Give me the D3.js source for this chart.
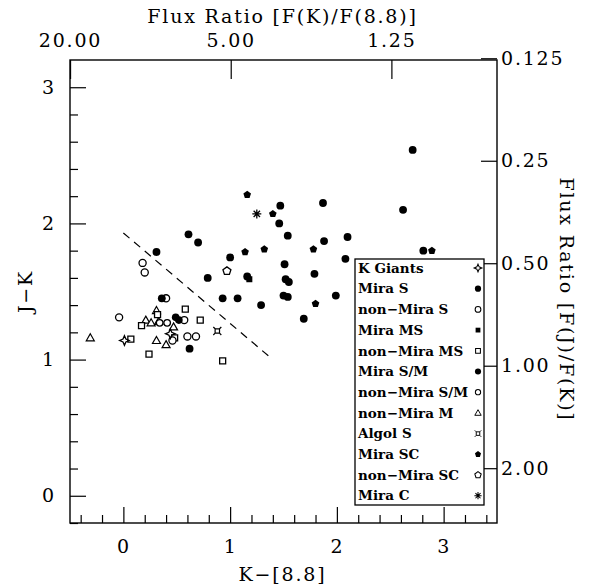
<!DOCTYPE html>
<html>
<head>
<meta charset="utf-8">
<script src="https://cdn.jsdelivr.net/npm/d3@7"></script>
<style>
body { margin: 0; background: #fff; }
text { font-family: "DejaVu Serif", serif; fill: #000; }
.ax { letter-spacing: 1.8px; }
</style>
</head>
<body>
<svg id="svg1" width="599" height="588"></svg>
<script>
// data: [K-[8.8], J-K]
var kGiants = [[0.01, 1.14], [0.44, 1.19]];
var miraS = [[2.71, 2.54], [2.62, 2.10], [1.47, 2.13], [1.46, 2.00], [1.87, 2.15],
  [0.61, 1.92], [0.70, 1.86], [0.31, 1.79], [1.54, 1.91], [1.88, 1.87], [2.10, 1.90],
  [2.81, 1.80], [1.00, 1.75], [2.08, 1.74], [0.79, 1.60], [1.16, 1.61], [1.51, 1.70],
  [1.79, 1.63], [1.52, 1.59], [1.55, 1.57], [0.93, 1.45], [1.07, 1.45], [1.29, 1.40],
  [1.50, 1.47], [1.54, 1.46], [1.99, 1.47], [1.69, 1.30], [0.36, 1.45], [0.62, 1.08]];
var nonMiraS = [[0.18, 1.71], [0.20, 1.64], [0.40, 1.45], [-0.04, 1.31], [0.57, 1.29],
  [0.46, 1.14], [0.60, 1.17], [0.68, 1.17]];
var miraMS = [[1.18, 1.59]];
var nonMiraMS = [[0.58, 1.37], [0.72, 1.29], [0.17, 1.25], [0.07, 1.15], [0.48, 1.16],
  [0.24, 1.04], [0.93, 0.99], [0.32, 1.33]];
var miraSM = [[0.49, 1.31], [0.52, 1.29]];
var nonMiraSM = [[0.34, 1.27], [0.41, 1.27]];
var nonMiraM = [[-0.31, 1.16], [0.31, 1.36], [0.21, 1.29], [0.26, 1.27], [0.33, 1.28],
  [0.47, 1.24], [0.31, 1.14], [0.40, 1.11]];
var algolS = [[0.88, 1.21]];
var miraSC = [[1.16, 2.21], [1.40, 2.07], [1.14, 1.79], [1.32, 1.81], [1.78, 1.81],
  [1.80, 1.41], [2.89, 1.80]];
var nonMiraSC = [[0.97, 1.65]];
var miraC = [[1.25, 2.07]];

var legendLabels = ["K Giants", "Mira S", "non\u2212Mira S", "Mira MS", "non\u2212Mira MS",
  "Mira S/M", "non\u2212Mira S/M", "non\u2212Mira M", "Algol S", "Mira SC", "non\u2212Mira SC", "Mira C"];

// dividing line
var divLine = [[0, 1.93], [1.40, 1.0]];

var xTicks = [0, 1, 2, 3];
var yTicks = [0, 1, 2, 3];
var topTicks = [20, 5, 1.25];
var rightTicks = [0.125, 0.25, 0.5, 1, 2];
var rightLabels = ["0.125", "0.25", "0.50", "1.00", "2.00"];

var pL = 70, pR = 497, pT = 60, pB = 523;
var svg1 = d3.select("#svg1");

var x = d3.scaleLinear().domain([-0.5, 3.5]).range([pL, pR]);
var y = d3.scaleLinear().domain([-0.2, 3.2]).range([pB, pT]);

// flux ratio scales (magnitude difference = c - 2.5 log10 ratio)
var cK = 2.753, cJ = 0.955;
var xTop = d3.scaleLog()
  .domain([Math.pow(10, (cK + 0.5) / 2.5), Math.pow(10, (cK - 3.5) / 2.5)])
  .range([pL, pR]);
var yRight = d3.scaleLog()
  .domain([Math.pow(10, (cJ + 0.2) / 2.5), Math.pow(10, (cJ - 3.2) / 2.5)])
  .range([pB, pT]);

var fs = 19;

// minor ticks
var xMinor = d3.range(-0.4, 3.45, 0.2).filter(function(v) { return Math.abs(v - Math.round(v)) > 0.01; });
var yMinor = d3.range(-0.2, 3.15, 0.2).filter(function(v) { return Math.abs(v - Math.round(v)) > 0.01; });

svg1.append("g").attr("transform", "translate(0," + pB + ")")
  .call(d3.axisBottom(x).tickValues(xMinor).tickSizeInner(-8).tickSizeOuter(0).tickFormat(""));
svg1.append("g").attr("transform", "translate(" + pL + ",0)")
  .call(d3.axisLeft(y).tickValues(yMinor).tickSizeInner(-8).tickSizeOuter(0).tickFormat(""));

var gx = svg1.append("g").attr("transform", "translate(0," + pB + ")")
  .call(d3.axisBottom(x).tickValues(xTicks).tickSizeInner(-16).tickSizeOuter(0).tickPadding(17).tickFormat(d3.format("d")));
var gy = svg1.append("g").attr("transform", "translate(" + pL + ",0)")
  .call(d3.axisLeft(y).tickValues(yTicks).tickSizeInner(-16).tickSizeOuter(0).tickPadding(14).tickFormat(d3.format("d")));
var gt = svg1.append("g").attr("transform", "translate(0," + pT + ")")
  .call(d3.axisTop(xTop).tickValues(topTicks).tickSizeInner(-19).tickSizeOuter(0).tickPadding(13).tickFormat(d3.format(".2f")));
var gr = svg1.append("g").attr("transform", "translate(" + pR + ",0)")
  .call(d3.axisRight(yRight).tickValues(rightTicks).tickSizeInner(-16).tickSizeOuter(0).tickPadding(4)
    .tickFormat(function(d, i) { return rightLabels[i]; }));

svg1.selectAll(".domain").remove();
svg1.selectAll(".tick line").attr("stroke", "#000").attr("stroke-width", 1.2);
svg1.selectAll(".tick text").attr("class", "ax").style("font-size", fs + "px").attr("fill", "#000");
gt.selectAll(".tick text").attr("dy", "0");

// frame
svg1.append("rect")
  .attr("x", pL).attr("y", pT).attr("width", pR - pL).attr("height", pB - pT)
  .attr("fill", "none").attr("stroke", "#000").attr("stroke-width", 1.4);

// axis titles
svg1.append("text").attr("class", "ax").attr("x", (pL + pR) / 2 - 1).attr("y", 581)
  .attr("text-anchor", "middle").style("font-size", fs + "px").text("K\u2212[8.8]");
svg1.append("text").attr("class", "ax").attr("x", (pL + pR) / 2 - 1).attr("y", 23)
  .attr("text-anchor", "middle").style("font-size", fs + "px").text("Flux Ratio [F(K)/F(8.8)]");
svg1.append("text").attr("class", "ax").attr("transform", "translate(32," + (pT + pB) / 2 + ") rotate(-90)")
  .attr("text-anchor", "middle").style("font-size", fs + "px").text("J\u2212K");
svg1.append("text").attr("class", "ax").attr("transform", "translate(560," + ((pT + pB) / 2 + 8) + ") rotate(90)")
  .attr("text-anchor", "middle").style("font-size", fs + "px").text("Flux Ratio [F(J)/F(K)]");

// dashed dividing line
svg1.append("path")
  .attr("d", d3.line().x(function(d) { return x(d[0]); }).y(function(d) { return y(d[1]); })(divLine))
  .attr("fill", "none").attr("stroke", "#000").attr("stroke-width", 1.2)
  .attr("stroke-dasharray", "8,6");

// symbols
function starPath(r) {
  var s = r * 0.3;
  return "M0," + (-r) + "L" + s + "," + (-s) + "L" + r + ",0L" + s + "," + s +
    "L0," + r + "L" + (-s) + "," + s + "L" + (-r) + ",0L" + (-s) + "," + (-s) + "Z";
}
function polyPath(n, r) {
  var p = [];
  for (var i = 0; i < n; i++) {
    var a = -Math.PI / 2 + i * 2 * Math.PI / n;
    p.push([r * Math.cos(a), r * Math.sin(a)]);
  }
  return "M" + p.join("L") + "Z";
}
function asteriskPath(r) {
  var d = "";
  for (var i = 0; i < 4; i++) {
    var a = i * Math.PI / 4;
    d += "M" + (r * Math.cos(a)) + "," + (r * Math.sin(a)) + "L" + (-r * Math.cos(a)) + "," + (-r * Math.sin(a));
  }
  return d;
}
function algolPath(r) {
  var h = r * 0.55;
  return "M" + (-h) + "," + (-h) + "L" + h + "," + (-h) + "L" + h + "," + h + "L" + (-h) + "," + h + "Z" +
    "M" + (-r) + "," + (-r) + "L" + (-h) + "," + (-h) + "M" + r + "," + (-r) + "L" + h + "," + (-h) +
    "M" + r + "," + r + "L" + h + "," + h + "M" + (-r) + "," + r + "L" + (-h) + "," + h;
}

var circle = d3.symbol().type(d3.symbolCircle);
var styles = [
  { d: starPath(4.8), fill: "none", sw: 1.3 },
  { d: circle.size(48)(), fill: "#000", sw: 0 },
  { d: circle.size(40)(), fill: "#fff", sw: 1.3 },
  { d: "M-3,-3h6v6h-6z", fill: "#000", sw: 0 },
  { d: "M-3,-3h6v6h-6z", fill: "#fff", sw: 1.3 },
  { d: circle.size(46)(), fill: "#000", sw: 0 },
  { d: circle.size(34)(), fill: "#fff", sw: 1.3 },
  { d: "M0,-4L4,3L-4,3Z", fill: "#fff", sw: 1.2 },
  { d: algolPath(4), fill: "none", sw: 1.2 },
  { d: polyPath(5, 4), fill: "#000", sw: 0 },
  { d: polyPath(5, 4.2), fill: "#fff", sw: 1.3 },
  { d: asteriskPath(4.5), fill: "none", sw: 1.3 }
];
var groups = [kGiants, miraS, nonMiraS, miraMS, nonMiraMS, miraSM, nonMiraSM, nonMiraM, algolS, miraSC, nonMiraSC, miraC];

// draw open symbols first so filled ones sit above
var order = [7, 4, 2, 6, 10, 0, 8, 1, 5, 3, 9, 11];
order.forEach(function(k) {
  var st = styles[k];
  svg1.append("g").selectAll("path")
    .data(groups[k])
    .enter()
    .append("path")
    .attr("d", st.d)
    .attr("transform", function(d) { return "translate(" + x(d[0]) + "," + y(d[1]) + ")"; })
    .attr("fill", st.fill)
    .attr("stroke", "#000")
    .attr("stroke-width", st.sw);
});

// legend
var lg = svg1.append("g");
lg.append("rect").attr("x", 355).attr("y", 259).attr("width", 129).attr("height", 246)
  .attr("fill", "#fff").attr("stroke", "#000").attr("stroke-width", 1.3);
legendLabels.forEach(function(lab, i) {
  var yy = 268 + i * 20.7;
  lg.append("text").attr("x", 358).attr("y", yy).attr("dy", "0.35em")
    .style("font-size", "13.5px").style("font-weight", "bold").text(lab);
  var st = styles[i];
  lg.append("path").attr("d", st.d).attr("transform", "translate(478," + yy + ") scale(0.8)")
    .attr("fill", st.fill).attr("stroke", "#000").attr("stroke-width", st.sw);
});
</script>
</body>
</html>
